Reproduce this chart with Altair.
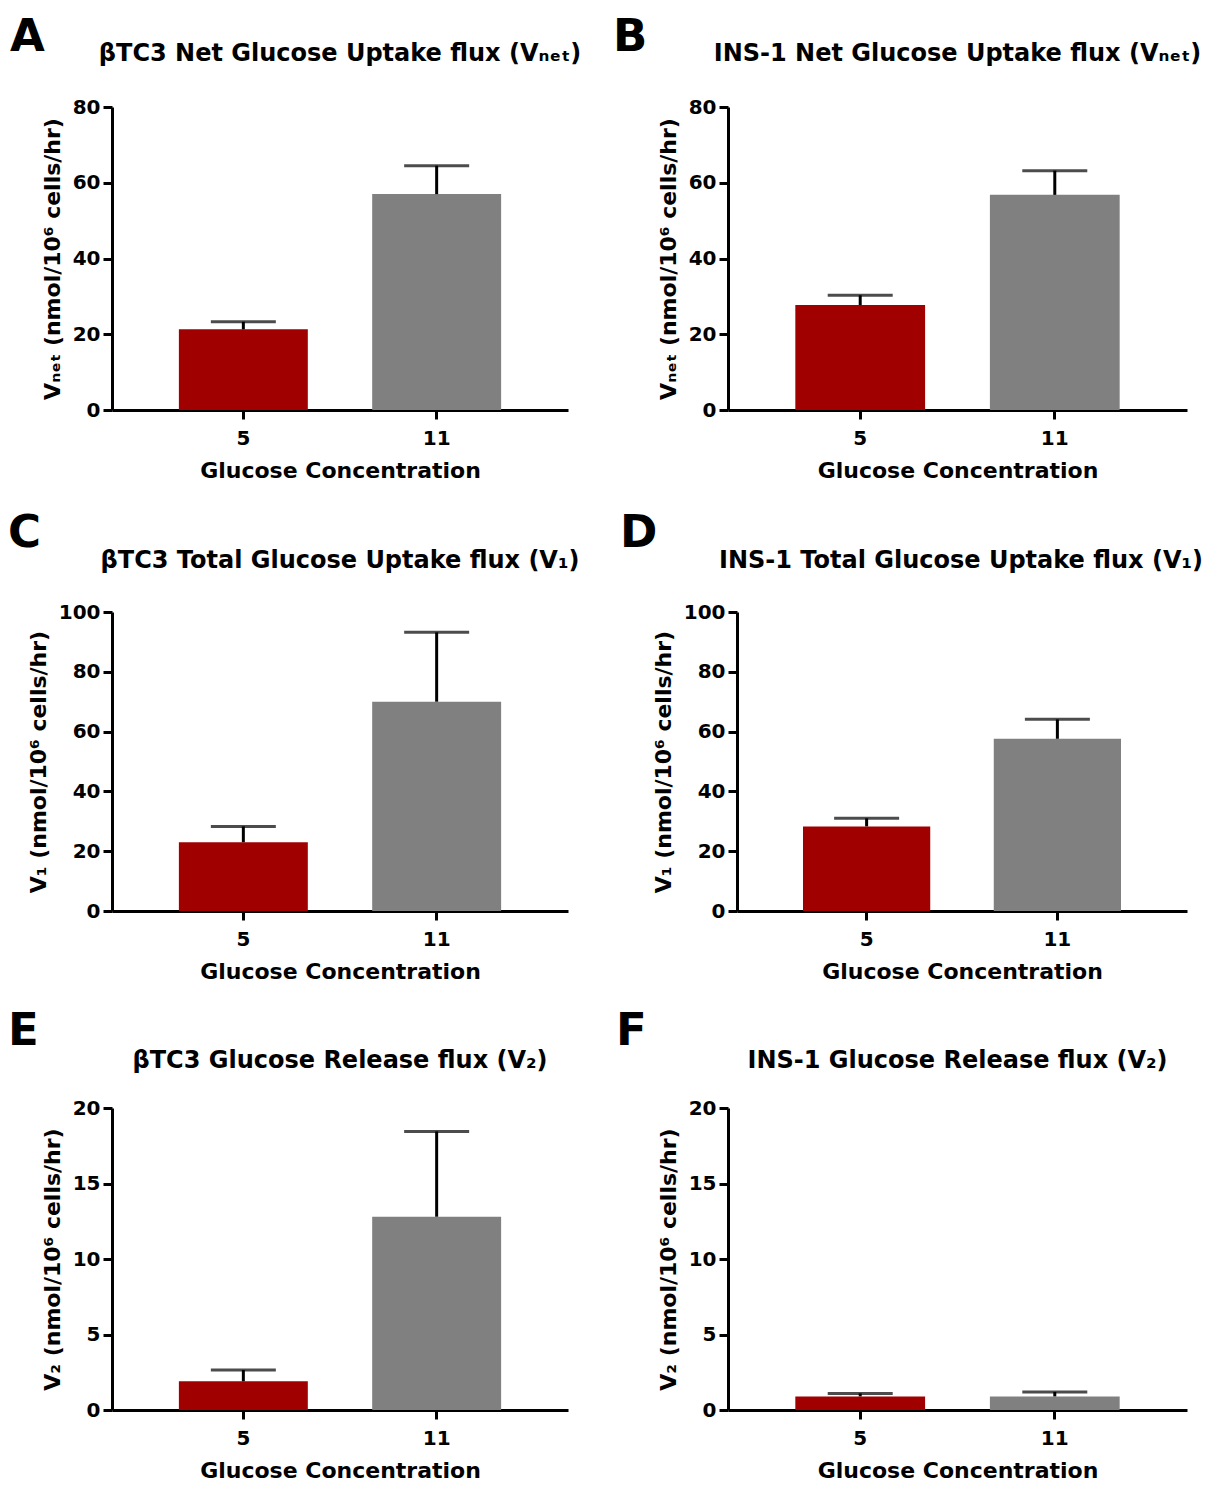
import altair as alt
import pandas as pd

FONT = "DejaVu Sans"
RED = "#A00000"
GRAY = "#808080"

conc = ["5", "11"]

# Panel A: betaTC3 net uptake
a_mean = [21.3, 57.0]
a_sem = [2.0, 7.5]
# Panel B: INS-1 net uptake
b_mean = [27.7, 56.8]
b_sem = [2.6, 6.4]
# Panel C: betaTC3 total uptake V1
c_mean = [23.0, 70.0]
c_sem = [5.3, 23.2]
# Panel D: INS-1 total uptake V1
d_mean = [28.3, 57.6]
d_sem = [2.7, 6.5]
# Panel E: betaTC3 release V2
e_mean = [1.9, 12.8]
e_sem = [0.75, 5.65]
# Panel F: INS-1 release V2
f_mean = [0.9, 0.9]
f_sem = [0.2, 0.3]

titles = [
    "βTC3 Net Glucose Uptake flux (Vₙₑₜ)",
    "INS-1 Net Glucose Uptake flux (Vₙₑₜ)",
    "βTC3 Total Glucose Uptake flux (V₁)",
    "INS-1 Total Glucose Uptake flux (V₁)",
    "βTC3 Glucose Release flux (V₂)",
    "INS-1 Glucose Release flux (V₂)",
]
ytitles = [
    "Vₙₑₜ (nmol/10⁶ cells/hr)",
    "Vₙₑₜ (nmol/10⁶ cells/hr)",
    "V₁ (nmol/10⁶ cells/hr)",
    "V₁ (nmol/10⁶ cells/hr)",
    "V₂ (nmol/10⁶ cells/hr)",
    "V₂ (nmol/10⁶ cells/hr)",
]
letters = ["A", "B", "C", "D", "E", "F"]
xtitle = "Glucose Concentration"


def panel(letter, title, ytitle, means, sems, ymax, ystep, width, height,
          lx, ly, ty, tdx, cell):
    df = pd.DataFrame({
        "conc": conc,
        "mean": means,
        "upper": [m + s for m, s in zip(means, sems)],
    })
    base = alt.Chart(df)
    xenc = alt.X(
        "conc:N", sort=conc,
        scale=alt.Scale(paddingInner=0.333, paddingOuter=0.346),
        axis=alt.Axis(title=xtitle, labelAngle=0, labelPadding=9, titlePadding=12),
    )
    yaxis = alt.Axis(values=list(range(0, ymax + 1, ystep)), title=ytitle,
                     labelPadding=3, titlePadding=8)
    yscale = alt.Scale(domain=[0, ymax], nice=False)
    bars = base.mark_bar().encode(
        x=xenc,
        y=alt.Y("mean:Q", scale=yscale, axis=yaxis),
        color=alt.Color("conc:N", scale=alt.Scale(domain=conc, range=[RED, GRAY]), legend=None),
    )
    rule = base.mark_rule(strokeWidth=3, color="black").encode(
        x=xenc,
        y=alt.Y("mean:Q", scale=yscale, axis=yaxis),
        y2="upper:Q",
    )
    cap = base.mark_tick(size=65, thickness=3, color="black").encode(
        x=xenc,
        y=alt.Y("upper:Q", scale=yscale, axis=yaxis),
    )
    lab = alt.Chart(pd.DataFrame({"t": [letter]})).mark_text(
        align="left", baseline="alphabetic", font=FONT, fontSize=45, fontWeight="bold", color="black"
    ).encode(text="t:N", x=alt.value(lx), y=alt.value(ly))
    ttl = alt.Chart(pd.DataFrame({"t": [title]})).mark_text(
        align="center", baseline="alphabetic", font=FONT, fontSize=24, fontWeight="bold", color="black"
    ).encode(text="t:N", x=alt.value(width / 2 + tdx), y=alt.value(ty))
    # invisible frame fixing this panel's cell in the grid
    L, R, T, B = cell
    frame = alt.Chart(pd.DataFrame({"z": [0]})).mark_rect(opacity=0).encode(
        x=alt.value(L), x2=alt.value(R), y=alt.value(T), y2=alt.value(B)
    )
    return alt.layer(frame, bars, rule, cap, lab, ttl).properties(width=width, height=height)


pA = panel(letters[0], titles[0], ytitles[0], a_mean, a_sem, 80, 20, 456, 303,
           -102, -56, -46, 0, (-104, 494, -99, 391))
pB = panel(letters[1], titles[1], ytitles[1], b_mean, b_sem, 80, 20, 459, 303,
           -115, -56, -46, 0, (-122, 475, -99, 391))
pC = panel(letters[2], titles[2], ytitles[2], c_mean, c_sem, 100, 20, 456, 299,
           -104, -65, -44, 0, (-104, 494, -114, 384))
pD = panel(letters[3], titles[3], ytitles[3], d_mean, d_sem, 100, 20, 450, 299,
           -117, -65, -44, -1, (-131, 466, -114, 384))
pE = panel(letters[4], titles[4], ytitles[4], e_mean, e_sem, 20, 5, 456, 302,
           -104, -63, -40, 0, (-104, 494, -112, 374))
pF = panel(letters[5], titles[5], ytitles[5], f_mean, f_sem, 20, 5, 459, 302,
           -112, -63, -40, 0, (-122, 475, -112, 374))

chart = alt.concat(
    pA, pB, pC, pD, pE, pF,
    columns=2, align="none", spacing={"row": 0, "column": 0},
).properties(
    padding={"left": 0, "top": 0, "right": 0, "bottom": 0}
).configure_axis(
    labelFont=FONT, labelFontWeight="bold", labelFontSize=20, labelColor="black",
    titleFont=FONT, titleFontWeight="bold", titleFontSize=22, titleColor="black",
    domainColor="black", domainWidth=3, tickColor="black", tickWidth=3, tickSize=9,
    grid=False,
).configure_view(stroke=None)

chart.save("out.html", embed_options={"renderer": "svg", "actions": False})
